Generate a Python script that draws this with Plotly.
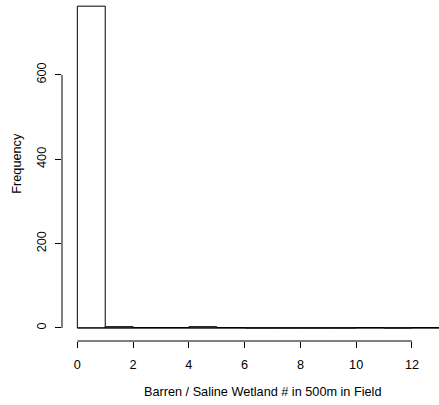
import plotly.graph_objects as go

breaks = list(range(0, 14))
counts = [763, 3, 1, 1, 3, 1, 0, 0, 0, 0, 1, 0, 1]
x_ticks = [0, 2, 4, 6, 8, 10, 12]
y_ticks = [0, 200, 400, 600]
x_title = "Barren / Saline Wetland # in 500m in Field"
y_title = "Frequency"

centers = [(breaks[i] + breaks[i + 1]) / 2 for i in range(len(counts))]
widths = [breaks[i + 1] - breaks[i] for i in range(len(counts))]

FONT = "Liberation Sans, Arial, sans-serif"
FS = 12.7
fig = go.Figure()
fig.add_trace(go.Bar(
    x=centers, y=counts, width=widths,
    marker=dict(color="white", line=dict(color="black", width=1)),
    hoverinfo="skip",
))

fig.update_layout(
    width=439, height=405,
    margin=dict(l=62, r=0, t=0, b=64),
    paper_bgcolor="white", plot_bgcolor="white",
    showlegend=False,
    font=dict(family=FONT, size=FS, color="black"),
    xaxis=dict(
        range=[-0.55, 12.97], tickvals=x_ticks, ticktext=[str(v) for v in x_ticks],
        ticks="outside", ticklen=6, tickcolor="black", tickwidth=1,
        showgrid=False, zeroline=False, showline=False,
        tickfont=dict(size=FS), ticklabelstandoff=6,
    ),
    yaxis=dict(
        range=[-31, 777.6], tickvals=y_ticks, ticktext=[str(v) for v in y_ticks],
        ticks="outside", ticklen=6, tickcolor="black", tickwidth=1,
        showgrid=False, zeroline=False, showline=False,
        tickangle=-90, tickfont=dict(size=FS), ticklabelstandoff=4,
    ),
    shapes=[
        dict(type="line", xref="paper", yref="y", x0=0, x1=0, y0=y_ticks[0], y1=y_ticks[-1],
             line=dict(color="black", width=1)),
        dict(type="line", xref="x", yref="paper", x0=x_ticks[0], x1=x_ticks[-1], y0=0, y1=0,
             line=dict(color="black", width=1)),
        dict(type="line", xref="x", yref="y", x0=breaks[0], x1=breaks[-1], y0=0, y1=0,
             line=dict(color="black", width=1)),
    ],
    annotations=[
        dict(text=x_title, xref="x", yref="paper", x=6.65, y=-51 / 341, yanchor="middle",
             xanchor="center", showarrow=False, font=dict(size=FS)),
        dict(text=y_title, xref="paper", yref="paper", x=-45 / 377, y=0.52, textangle=-90,
             xanchor="center", yanchor="middle", showarrow=False, font=dict(size=FS)),
    ],
)

fig.write_html("out.html", config={"displayModeBar": False},
               post_script="document.body.style.margin='0';document.body.style.padding='0';")
